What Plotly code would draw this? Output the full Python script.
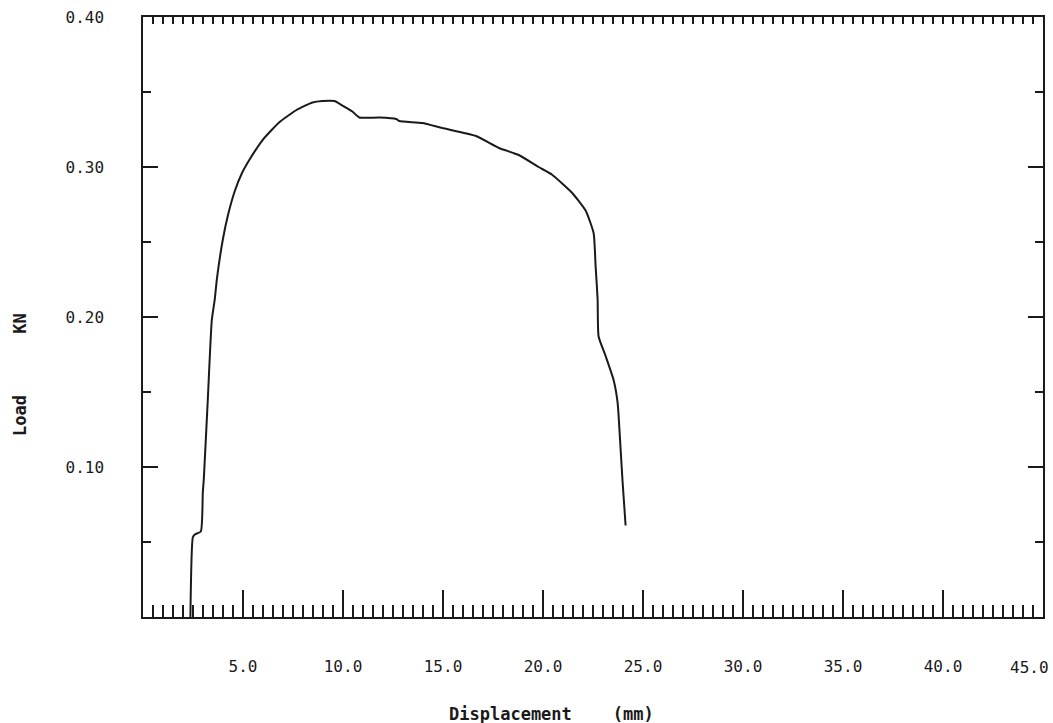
import plotly.graph_objects as go

# Load-displacement record
displacement_mm = [2.37, 2.49, 2.59, 2.89, 2.99, 3.04, 3.24, 3.44, 3.59, 3.70, 3.99,
                   4.25, 4.59, 4.95, 5.33, 5.98, 6.83, 7.68, 8.47, 8.97, 9.57, 9.97,
                   10.47, 10.82, 11.81, 12.66, 12.81, 13.96, 14.96, 16.65, 17.80,
                   18.79, 19.78, 20.44, 21.44, 22.13, 22.53, 22.63, 22.73, 22.78,
                   23.13, 23.53, 23.73, 23.88, 23.98, 24.13]
load_kn = [0.0, 0.053, 0.055, 0.057, 0.083, 0.092, 0.145, 0.198, 0.212, 0.226, 0.2515,
           0.268, 0.284, 0.296, 0.305, 0.318, 0.330, 0.338, 0.343, 0.344, 0.344, 0.341,
           0.337, 0.333, 0.333, 0.332, 0.3307, 0.3293, 0.326, 0.3207, 0.3127,
           0.308, 0.300, 0.295, 0.283, 0.271, 0.256, 0.234, 0.212, 0.187,
           0.174, 0.158, 0.143, 0.112, 0.090, 0.061]

x_tick_vals = [5, 10, 15, 20, 25, 30, 35, 40, 45]
x_tick_text = ["5.0", "10.0", "15.0", "20.0", "25.0", "30.0", "35.0", "40.0", "45.0"]
y_tick_vals = [0.1, 0.2, 0.3, 0.4]
y_tick_text = ["0.10", "0.20", "0.30", "0.40"]
y_minor_vals = [0.05, 0.15, 0.25, 0.35]

X_RANGE = [0, 45.0001]
Y_RANGE = [0, 0.40001]
INK = "#1a1a1a"
MONO = "DejaVu Sans Mono, Liberation Mono, monospace"
TICK_FONT = dict(family=MONO, size=16, color=INK)
TITLE_FONT = dict(family=MONO, size=17, color=INK, weight="bold")

fig = go.Figure()
fig.add_trace(go.Scatter(x=displacement_mm, y=load_kn, mode="lines",
                         line=dict(color=INK, width=2, shape="spline", smoothing=0.5),
                         hoverinfo="skip", showlegend=False))
# carrier trace for the top tick axis
fig.add_trace(go.Scatter(x=X_RANGE, y=Y_RANGE, xaxis="x2", mode="lines",
                         line=dict(width=0), opacity=0, hoverinfo="skip",
                         showlegend=False))

# the last label sits at the frame's right edge, so it is pulled inward
inner_text = x_tick_text[:-1] + [""]

fig.update_layout(
    width=1053, height=723,
    margin=dict(l=143, r=10, t=17, b=106),
    paper_bgcolor="white", plot_bgcolor="white",
    font=dict(family=MONO, color=INK, size=16),
    xaxis=dict(
        range=X_RANGE, showgrid=False, zeroline=False, automargin=False,
        showline=True, linecolor=INK, linewidth=1.5, mirror=False,
        tickmode="array", tickvals=x_tick_vals, ticktext=inner_text,
        ticks="inside", ticklen=27, tickwidth=1.5, tickcolor=INK,
        ticklabelstandoff=34, tickfont=TICK_FONT,
        minor=dict(tickmode="linear", tick0=0, dtick=0.5, ticks="inside",
                   ticklen=12, tickwidth=1.5, tickcolor=INK, showgrid=False),
    ),
    xaxis2=dict(
        range=X_RANGE, overlaying="x", side="top", anchor="y", automargin=False,
        showgrid=False, zeroline=False, showline=True, linecolor=INK,
        linewidth=1.5, tickmode="linear", tick0=0, dtick=0.5,
        ticks="inside", ticklen=7, tickwidth=1.5, tickcolor=INK,
        showticklabels=False,
    ),
    yaxis=dict(
        range=Y_RANGE, showgrid=False, zeroline=False, automargin=False,
        showline=True, linecolor=INK, linewidth=1.5, mirror="ticks",
        tickmode="array", tickvals=y_tick_vals, ticktext=y_tick_text,
        ticks="inside", ticklen=15, tickwidth=1.5, tickcolor=INK,
        ticklabelstandoff=34, tickfont=TICK_FONT,
        minor=dict(tickmode="array", tickvals=y_minor_vals, ticks="inside",
                   ticklen=8, tickwidth=1.5, tickcolor=INK, showgrid=False),
    ),
    annotations=[
        dict(text=x_tick_text[-1], xref="x", yref="paper",
             x=x_tick_vals[-1], y=-(667 - 617) / 600, xanchor="right",
             yanchor="middle", xshift=8, showarrow=False, font=TICK_FONT),
        dict(text="Displacement\u00a0\u00a0\u00a0\u00a0(mm)", xref="paper", yref="paper",
             x=(551 - 143) / 900, y=-(714 - 617) / 600, xanchor="center",
             yanchor="middle", showarrow=False, font=TITLE_FONT),
        dict(text="Load\u00a0\u00a0\u00a0\u00a0\u00a0\u00a0KN", xref="paper", yref="paper",
             x=-(143 - 20) / 900, y=(617 - 375) / 600, xanchor="center",
             yanchor="middle", textangle=-90, showarrow=False, font=TITLE_FONT),
    ],
)

fig.write_html("out.html")
